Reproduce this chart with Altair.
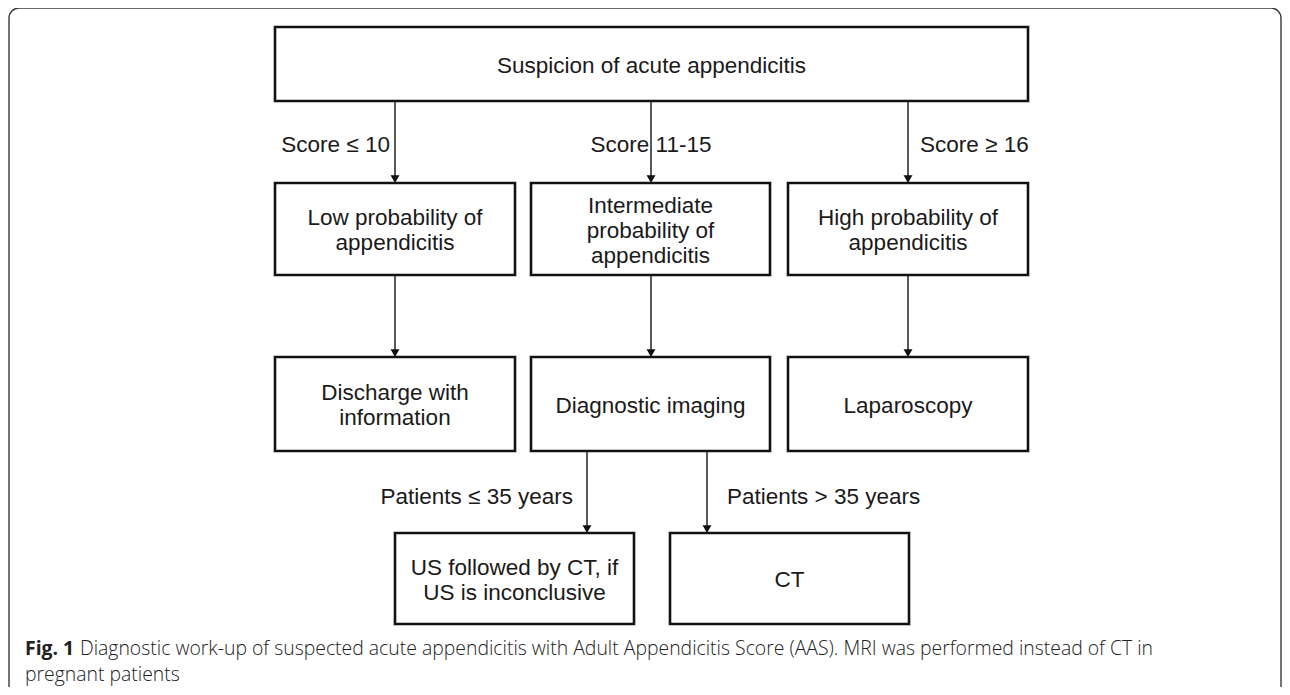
import altair as alt
import pandas as pd

# ---------------- content ----------------
box_labels = [
    "Suspicion of acute appendicitis",
    "Low probability of\nappendicitis",
    "Intermediate\nprobability of\nappendicitis",
    "High probability of\nappendicitis",
    "Discharge with\ninformation",
    "Diagnostic imaging",
    "Laparoscopy",
    "US followed by CT, if\nUS is inconclusive",
    "CT",
]
edge_labels = ["Score \u2264 10", "Score 11-15", "Score \u2265 16",
               "Patients \u2264 35 years", "Patients > 35 years"]
caption_bold = "Fig. 1"
caption_line1 = ("Diagnostic work-up of suspected acute appendicitis with Adult "
                 "Appendicitis Score (AAS). MRI was performed instead of CT in")
caption_line2 = "pregnant patients"

# ---------------- layout (pixel coordinates of the diagram) ----------------
box_x0 = [275, 275, 531, 788, 275, 531, 788, 395, 670]
box_x1 = [1028, 515, 770, 1028, 515, 770, 1028, 634, 909]
box_y0 = [27, 183, 183, 183, 357, 357, 357, 533, 533]
box_y1 = [101, 275, 275, 275, 451, 451, 451, 624, 624]

arrow_x = [395, 651, 908, 395, 651, 908, 587, 707]
arrow_from = [101, 101, 101, 275, 275, 275, 451, 451]
arrow_to = [183, 183, 183, 357, 357, 357, 533, 533]

elabel_x = [390, 651, 920, 573, 727]
elabel_y = [145, 145, 145, 497, 497]
elabel_align = ["right", "center", "left", "right", "left"]

LINE_H = 25
W, H = 1274, 679
xs = alt.Scale(domain=[8, 8 + W], nice=False, zero=False)
ys = alt.Scale(domain=[8, 8 + H], nice=False, zero=False, reverse=True)

FONT = "Liberation Sans"
CAP_FONT = "Open Sans"
CAP_SIZE = 19.4

# outer frame
frame_df = pd.DataFrame({"x0": [9], "x1": [1281], "y0": [8], "y1": [760]})
frame = alt.Chart(frame_df).mark_rect(
    fill=None, stroke="#3a3a3a", strokeWidth=1.4, cornerRadius=10, clip=True
).encode(
    x=alt.X("x0:Q", scale=xs, axis=None), x2="x1:Q",
    y=alt.Y("y0:Q", scale=ys, axis=None), y2="y1:Q",
)

boxes_df = pd.DataFrame({
    "label": box_labels, "x0": box_x0, "x1": box_x1, "y0": box_y0, "y1": box_y1,
})
boxes_df["cx"] = (boxes_df.x0 + boxes_df.x1) / 2
nlines = boxes_df.label.str.count("\n")
boxes_df["ty"] = (boxes_df.y0 + boxes_df.y1) / 2 - nlines * LINE_H / 2 + 1.5

boxes = alt.Chart(boxes_df).mark_rect(
    fill="white", stroke="#111111", strokeWidth=2.6
).encode(
    x=alt.X("x0:Q", scale=xs, axis=None), x2="x1:Q",
    y=alt.Y("y0:Q", scale=ys, axis=None), y2="y1:Q",
)
box_text = alt.Chart(boxes_df).mark_text(
    font=FONT, fontSize=22.5, color="#1a1a1a", lineBreak="\n", lineHeight=LINE_H,
    align="center", baseline="middle"
).encode(
    x=alt.X("cx:Q", scale=xs, axis=None),
    y=alt.Y("ty:Q", scale=ys, axis=None),
    text="label:N",
)

arrows_df = pd.DataFrame({"x": arrow_x, "y0": arrow_from, "y1": arrow_to})
arrows_df["yl"] = arrows_df.y1 - 4
arrows_df["yh"] = arrows_df.y1 - 3.9
lines = alt.Chart(arrows_df).mark_rule(color="#222222", strokeWidth=1.5).encode(
    x=alt.X("x:Q", scale=xs, axis=None),
    y=alt.Y("y0:Q", scale=ys, axis=None), y2="yl:Q",
)
heads = alt.Chart(arrows_df).mark_point(
    shape="triangle-down", filled=True, size=80, color="#111111", opacity=1
).encode(
    x=alt.X("x:Q", scale=xs, axis=None),
    y=alt.Y("yh:Q", scale=ys, axis=None),
)

el_layers = []
for lab, lx, ly, la in zip(edge_labels, elabel_x, elabel_y, elabel_align):
    d = pd.DataFrame({"label": [lab], "x": [lx], "y": [ly]})
    el_layers.append(
        alt.Chart(d).mark_text(
            font=FONT, fontSize=22.5, color="#1a1a1a", align=la, baseline="middle"
        ).encode(
            x=alt.X("x:Q", scale=xs, axis=None),
            y=alt.Y("y:Q", scale=ys, axis=None),
            text="label:N",
        )
    )

cap_df = pd.DataFrame({
    "label": [caption_bold, caption_line1, caption_line2],
    "x": [25, 80, 25], "y": [655, 655, 681],
})
cap_bold = alt.Chart(cap_df.iloc[[0]]).mark_text(
    font=CAP_FONT, fontSize=CAP_SIZE, fontWeight="bold", color="#222222",
    align="left", baseline="alphabetic"
).encode(
    x=alt.X("x:Q", scale=xs, axis=None),
    y=alt.Y("y:Q", scale=ys, axis=None),
    text="label:N",
)
cap_norm = alt.Chart(cap_df.iloc[[1, 2]]).mark_text(
    font=CAP_FONT, fontSize=CAP_SIZE, fontWeight=300, color="#222222",
    align="left", baseline="alphabetic"
).encode(
    x=alt.X("x:Q", scale=xs, axis=None),
    y=alt.Y("y:Q", scale=ys, axis=None),
    text="label:N",
)

chart = alt.layer(
    frame, lines, heads, boxes, box_text, *el_layers, cap_bold, cap_norm
).properties(
    width=W, height=H, padding=0, background="white"
).configure_view(strokeWidth=0)

chart.save("out.html", embed_options={"renderer": "svg", "actions": False})
